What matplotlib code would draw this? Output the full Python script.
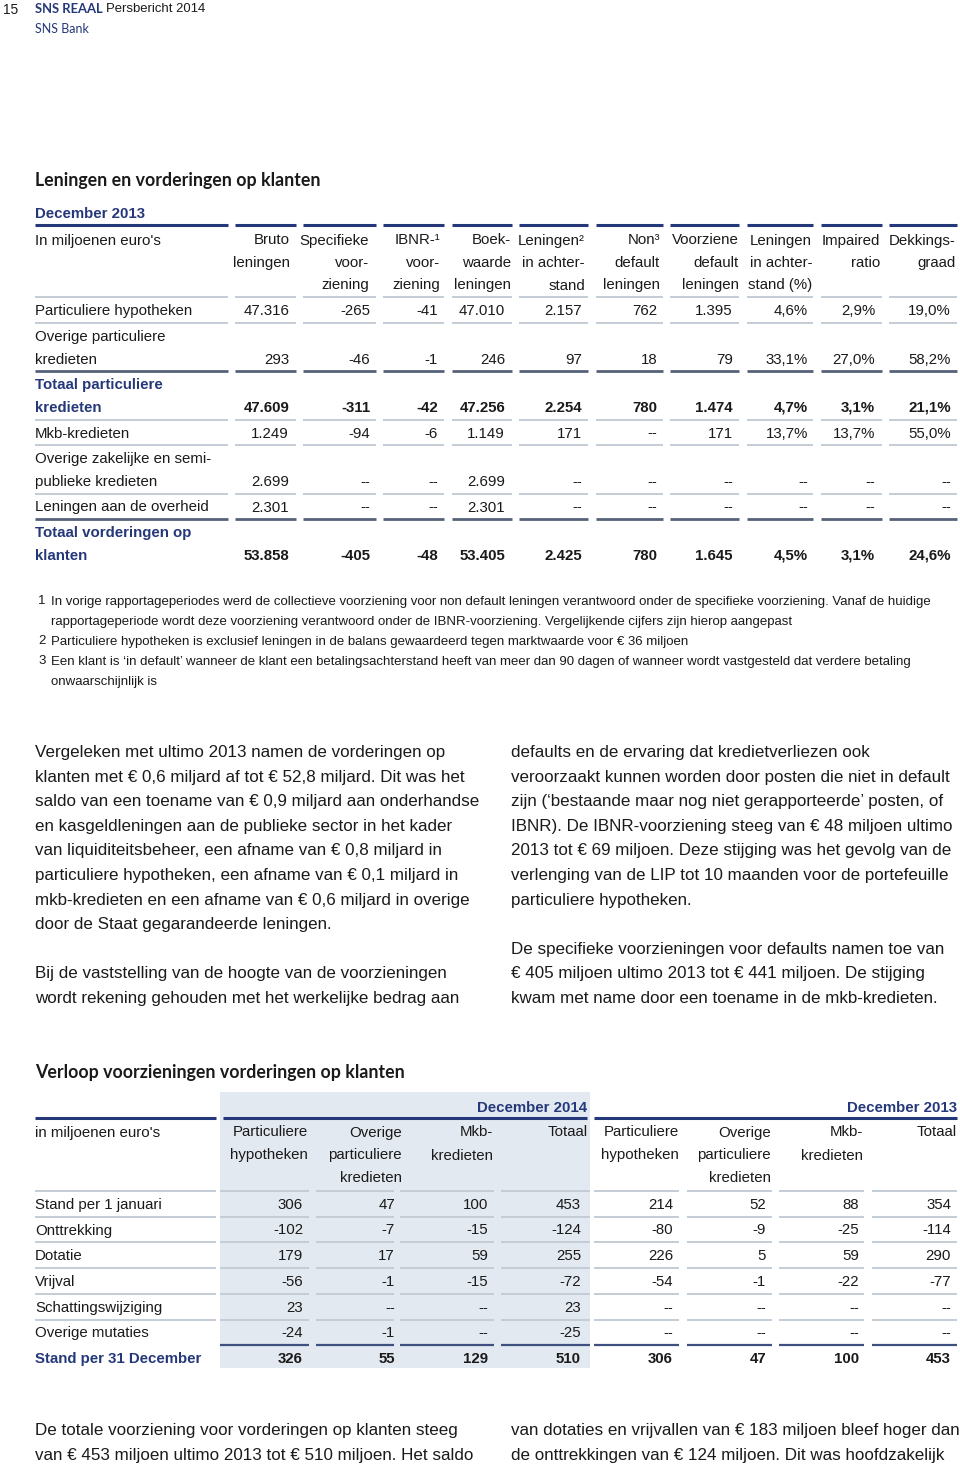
import matplotlib
matplotlib.use('Agg')
import matplotlib.pyplot as plt
from matplotlib import font_manager
from matplotlib.patches import Rectangle

# ---- data -------------------------------------------------------------
t1_title = "Leningen en vorderingen op klanten"
t1_period = "December 2013"
t1_unit = "In miljoenen euro's"
t1_head = [["Bruto", "leningen"], ["Specifieke", "voor-", "ziening"],
           ["IBNR-¹", "voor-", "ziening"], ["Boek-", "waarde", "leningen"],
           ["Leningen²", "in achter-", "stand"], ["Non³", "default", "leningen"],
           ["Voorziene", "default", "leningen"], ["Leningen", "in achter-", "stand (%)"],
           ["Impaired", "ratio"], ["Dekkings-", "graad"]]
t1_labels = ["Particuliere hypotheken", "Overige particuliere\nkredieten",
             "Totaal particuliere\nkredieten", "Mkb-kredieten",
             "Overige zakelijke en semi-\npublieke kredieten",
             "Leningen aan de overheid", "Totaal vorderingen op\nklanten"]
t1_total = [False, False, True, False, False, False, True]
t1_values = [
    ["47.316", "-265", "-41", "47.010", "2.157", "762", "1.395", "4,6%", "2,9%", "19,0%"],
    ["293", "-46", "-1", "246", "97", "18", "79", "33,1%", "27,0%", "58,2%"],
    ["47.609", "-311", "-42", "47.256", "2.254", "780", "1.474", "4,7%", "3,1%", "21,1%"],
    ["1.249", "-94", "-6", "1.149", "171", "--", "171", "13,7%", "13,7%", "55,0%"],
    ["2.699", "--", "--", "2.699", "--", "--", "--", "--", "--", "--"],
    ["2.301", "--", "--", "2.301", "--", "--", "--", "--", "--", "--"],
    ["53.858", "-405", "-48", "53.405", "2.425", "780", "1.645", "4,5%", "3,1%", "24,6%"],
]
footnotes = [
    ("1", ["In vorige rapportageperiodes werd de collectieve voorziening voor non default leningen verantwoord onder de specifieke voorziening. Vanaf de huidige",
           "rapportageperiode wordt deze voorziening verantwoord onder de IBNR-voorziening. Vergelijkende cijfers zijn hierop aangepast"]),
    ("2", ["Particuliere hypotheken is exclusief leningen in de balans gewaardeerd tegen marktwaarde voor € 36 miljoen"]),
    ("3", ["Een klant is ‘in default’ wanneer de klant een betalingsachterstand heeft van meer dan 90 dagen of wanneer wordt vastgesteld dat verdere betaling",
           "onwaarschijnlijk is"]),
]
body_left = [
    ["Vergeleken met ultimo 2013 namen de vorderingen op",
     "klanten met € 0,6 miljard af tot € 52,8 miljard. Dit was het",
     "saldo van een toename van € 0,9 miljard aan onderhandse",
     "en kasgeldleningen aan de publieke sector in het kader",
     "van liquiditeitsbeheer, een afname van € 0,8 miljard in",
     "particuliere hypotheken, een afname van € 0,1 miljard in",
     "mkb-kredieten en een afname van € 0,6 miljard in overige",
     "door de Staat gegarandeerde leningen."],
    ["Bij de vaststelling van de hoogte van de voorzieningen",
     "wordt rekening gehouden met het werkelijke bedrag aan"],
]
body_right = [
    ["defaults en de ervaring dat kredietverliezen ook",
     "veroorzaakt kunnen worden door posten die niet in default",
     "zijn (‘bestaande maar nog niet gerapporteerde’ posten, of",
     "IBNR). De IBNR-voorziening steeg van € 48 miljoen ultimo",
     "2013 tot € 69 miljoen. Deze stijging was het gevolg van de",
     "verlenging van de LIP tot 10 maanden voor de portefeuille",
     "particuliere hypotheken."],
    ["De specifieke voorzieningen voor defaults namen toe van",
     "€ 405 miljoen ultimo 2013 tot € 441 miljoen. De stijging",
     "kwam met name door een toename in de mkb-kredieten."],
]

t2_title = "Verloop voorzieningen vorderingen op klanten"
t2_periods = ["December 2014", "December 2013"]
t2_unit = "in miljoenen euro's"
t2_head = [["Particuliere", "hypotheken"], ["Overige", "particuliere", "kredieten"],
           ["Mkb-", "kredieten"], ["Totaal"]]
t2_labels = ["Stand per 1 januari", "Onttrekking", "Dotatie", "Vrijval",
             "Schattingswijziging", "Overige mutaties", "Stand per 31 December"]
part_hyp_2014 = [306, -102, 179, -56, 23, -24, 326]
ov_part_2014 = [47, -7, 17, -1, None, -1, 55]
mkb_2014 = [100, -15, 59, -15, None, None, 129]
totaal_2014 = [453, -124, 255, -72, 23, -25, 510]
part_hyp_2013 = [214, -80, 226, -54, None, None, 306]
ov_part_2013 = [52, -9, 5, -1, None, None, 47]
mkb_2013 = [88, -25, 59, -22, None, None, 100]
totaal_2013 = [354, -114, 290, -77, None, None, 453]

bottom_left = ["De totale voorziening voor vorderingen op klanten steeg",
               "van € 453 miljoen ultimo 2013 tot € 510 miljoen. Het saldo"]
bottom_right = ["van dotaties en vrijvallen van € 183 miljoen bleef hoger dan",
                "de onttrekkingen van € 124 miljoen. Dit was hoofdzakelijk"]

# ---- style ------------------------------------------------------------
fonts = {f.name for f in font_manager.fontManager.ttflist}
SANS = 'Liberation Sans'
NARROW = 'Liberation Sans Narrow' if 'Liberation Sans Narrow' in fonts else SANS
HUMAN = 'Lato' if 'Lato' in fonts else 'DejaVu Sans'
NAVY = '#25387a'
INK = '#1a1a1a'
LIGHT = '#c4ccd6'
DARK = '#56627a'
SHADE = '#e3e9f0'

fig = plt.figure(figsize=(9.6, 14.67), dpi=100)
ax = fig.add_axes([0, 0, 1, 1])
ax.set_xlim(0, 960)
ax.set_ylim(1467, 0)
ax.axis('off')
renderer = fig.canvas.get_renderer()


def fit(txt, target, **kw):
    t = ax.text(0, 0, txt, fontsize=10, **kw)
    w = t.get_window_extent(renderer).width
    t.remove()
    return 10 * target / w


def put(x, y, s, size, ha='left', family=SANS, color=INK, weight='normal'):
    # center_baseline keeps rows level whatever glyphs they hold
    ax.text(x, y + 1, s, fontsize=size, ha=ha, va='center_baseline',
            family=family, color=color, weight=weight)


def hline(x0, x1, y, color=LIGHT, lw=1.4):
    ax.plot([x0, x1], [y, y], color=color, lw=lw, solid_capstyle='butt')


fs_tbl = fit(t1_unit, 126, family=SANS)
fs_body = fit(body_left[0][0], 411, family=NARROW)
fs_foot = fit(footnotes[0][1][0], 886, family=NARROW)
fs_title = fit(t1_title, 285, family=HUMAN, weight='bold')

# ---- page header --------------------------------------------------------
put(3, 7, "15", fs_tbl * 0.92)
put(35, 7, "SNS REAAL", fit("SNS REAAL", 68, family=HUMAN, weight='bold'),
    family=HUMAN, color=NAVY, weight='bold')
put(106, 7, "Persbericht 2014", fit("Persbericht 2014", 100, family=SANS))
put(35, 27, "SNS Bank", fit("SNS Bank", 54, family=HUMAN), family=HUMAN, color=NAVY)

# ---- table 1 ------------------------------------------------------------
put(35, 178, t1_title, fs_title, family=HUMAN, weight='bold')
put(35, 211, t1_period, fs_tbl, color=NAVY, weight='bold')
segs1 = [(35, 228), (235, 296), (303, 376), (383, 444), (452, 512), (519, 588),
         (596, 663), (670, 739), (747, 813), (821, 882), (889, 957)]
head_r1 = [290, 369, 440, 511, 585, 660, 739, 812, 880, 956]
val_r1 = [289, 370, 438, 505, 582, 657, 733, 808, 875, 951]

for a, b in segs1:
    hline(a, b, 225, color=NAVY, lw=2.2)
put(35, 238, t1_unit, fs_tbl)
for j, lines in enumerate(t1_head):
    for k, s in enumerate(lines):
        put(head_r1[j], 238 + 22.5 * k, s, fs_tbl, ha='right')
y_line = 297
for a, b in segs1:
    hline(a, b, y_line)
for i, (lab, vals) in enumerate(zip(t1_labels, t1_values)):
    parts = lab.split('\n')
    tot = t1_total[i]
    y = y_line + 11.5
    for k, s in enumerate(parts):
        put(35, y + 23 * k, s, fs_tbl, color=NAVY if tot else INK,
            weight='bold' if tot else 'normal')
    y_last = y + 23 * (len(parts) - 1)
    for j, v in enumerate(vals):
        put(val_r1[j], y_last, v, fs_tbl, ha='right',
            weight='bold' if tot else 'normal')
    y_line = y_last + 14
    if i < len(t1_labels) - 1:
        nxt = t1_total[i + 1]
        for a, b in segs1:
            hline(a, b, y_line, color=DARK if nxt else LIGHT, lw=2.0 if nxt else 1.4)

# footnotes
fy = 599
for num, lines in footnotes:
    put(38, fy, num, fs_foot, family=NARROW)
    for s in lines:
        put(51, fy, s, fs_foot, family=NARROW)
        fy += 20

# body text
for x, paras, y0 in [(35, body_left, 750), (511, body_right, 750)]:
    y = y0
    for para in paras:
        for s in para:
            put(x, y, s, fs_body, family=NARROW)
            y += 24.6
        y += 24.6

# ---- table 2 ------------------------------------------------------------
put(35, 1070, t2_title, fit(t2_title, 368, family=HUMAN, weight='bold'),
    family=HUMAN, weight='bold')
ax.add_patch(Rectangle((220, 1092), 370, 276, color=SHADE, lw=0, zorder=0))
put(587, 1105, t2_periods[0], fs_tbl, ha='right', color=NAVY, weight='bold')
put(957, 1105, t2_periods[1], fs_tbl, ha='right', color=NAVY, weight='bold')
for a, b in [(35, 216), (223, 587), (594, 957)]:
    hline(a, b, 1118, color=NAVY, lw=2.2)
put(35, 1130, t2_unit, fs_tbl)
head_r2 = [308, 402, 493, 588, 679, 771, 863, 957]
val_r2 = [303, 395, 488, 581, 673, 766, 859, 951]
segs2 = [(35, 216), (220, 309), (316, 394), (400, 494), (501, 590),
         (594, 679), (687, 772), (779, 864), (872, 957)]
for j in range(8):
    for k, s in enumerate(t2_head[j % 4]):
        put(head_r2[j], 1130 + 23 * k, s, fs_tbl, ha='right')
cols2 = [part_hyp_2014, ov_part_2014, mkb_2014, totaal_2014,
         part_hyp_2013, ov_part_2013, mkb_2013, totaal_2013]
y_line = 1191
for a, b in segs2:
    hline(a, b, y_line)
for i, lab in enumerate(t2_labels):
    tot = i == len(t2_labels) - 1
    y = y_line + 11.3
    put(35, y, lab, fs_tbl, color=NAVY if tot else INK,
        weight='bold' if tot else 'normal')
    for j, col in enumerate(cols2):
        v = col[i]
        put(val_r2[j], y, "--" if v is None else str(v), fs_tbl, ha='right',
            weight='bold' if tot else 'normal')
    y_line = y + 14.4
    if i < len(t2_labels) - 1:
        if i + 1 == len(t2_labels) - 1:
            for a, b in segs2[1:]:
                hline(a, b, y_line, color='#3e5080', lw=1.6)
        else:
            for a, b in segs2:
                hline(a, b, y_line)

for x, lines in [(35, bottom_left), (511, bottom_right)]:
    for k, s in enumerate(lines):
        put(x, 1428 + 25 * k, s, fs_body, family=NARROW)

fig.savefig('out.png', dpi=100)
